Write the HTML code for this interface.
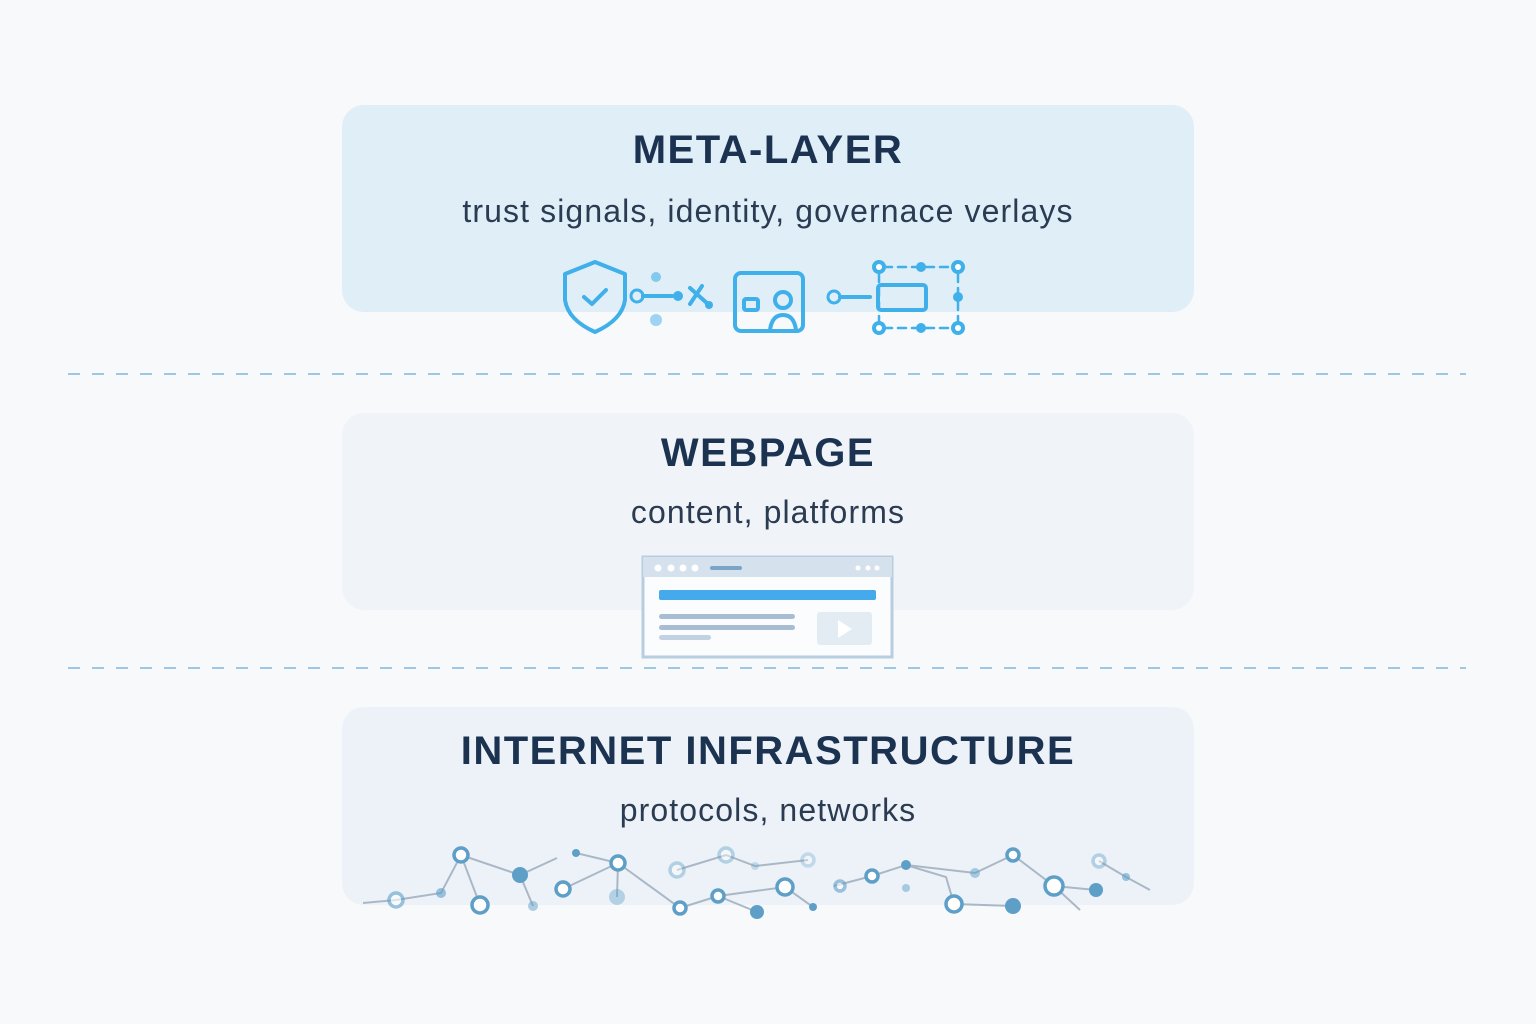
<!DOCTYPE html>
<html><head><meta charset="utf-8"><style>
body{margin:0;width:1536px;height:1024px;background:#f8f9fb;position:relative;overflow:hidden;font-family:"Liberation Sans",sans-serif}
.box{position:absolute;left:342px;width:852px;border-radius:22px}
.t{position:absolute;left:0;width:1536px;text-align:center;color:#1b3350;font-weight:bold;font-size:40px;letter-spacing:1.5px}
.s{position:absolute;left:0;width:1536px;text-align:center;color:#2a3b52;font-size:32px;letter-spacing:1.1px}
.d{position:absolute;left:68px;width:1398px;height:2px;background:repeating-linear-gradient(90deg,#9cc8e4 0 12px,transparent 12px 24px)}
</style></head><body>
<div class="box" style="top:105px;height:207px;background:#e0eef8"></div>
<div class="box" style="top:413px;height:197px;background:#f0f4f8"></div>
<div class="box" style="top:707px;height:198px;background:#ecf2f8"></div>
<div class="d" style="top:373px"></div>
<div class="d" style="top:667px"></div>
<div class="t" style="top:128px">META-LAYER</div>
<div class="s" style="top:193px">trust signals, identity, governace verlays</div>
<div class="t" style="top:431px">WEBPAGE</div>
<div class="s" style="top:494px">content, platforms</div>
<div class="t" style="top:729px">INTERNET INFRASTRUCTURE</div>
<div class="s" style="top:792px">protocols, networks</div>
<svg width="1536" height="1024" style="position:absolute;left:0;top:0">
<g fill="none" stroke="#3fb0ea" stroke-width="4" stroke-linecap="round" stroke-linejoin="round">
<path d="M595 262 L625 274 L625 300 Q622 320 595 332 Q568 320 565 300 L565 274 Z"/>
<path d="M584 297 L592 304 L606 290"/>
<circle cx="637" cy="296" r="6" stroke-width="3"/><path d="M643 296 H672"/><path d="M690 288 L708 304 M690 304 L702 286"/>
<rect x="735" y="273" width="68" height="58" rx="6"/>
<rect x="744" y="299" width="14" height="11" rx="2"/>
<circle cx="783" cy="300" r="8"/><path d="M770 330 Q772 315 783 315 Q794 315 796 330"/>
<circle cx="834" cy="297" r="6" stroke-width="3"/><path d="M840 297 H870"/>
<rect x="878" y="285" width="48" height="25" rx="3"/>
<path d="M884 267 H952 M884 328 H952 M958 274 V321 M879 274 V321" stroke-width="2.5" stroke-dasharray="8 6"/>
</g>
<g fill="#3fb0ea"><circle cx="879" cy="267" r="7"/><circle cx="921" cy="267" r="5"/><circle cx="958" cy="267" r="7"/><circle cx="879" cy="328" r="7"/><circle cx="921" cy="328" r="5"/><circle cx="958" cy="328" r="7"/><circle cx="958" cy="297" r="5"/><circle cx="656" cy="277" r="5" opacity=".6"/><circle cx="656" cy="320" r="6" opacity=".5"/><circle cx="678" cy="296" r="5"/><circle cx="709" cy="305" r="4"/></g>
<g fill="#fff"><circle cx="879" cy="267" r="3"/><circle cx="958" cy="267" r="3"/><circle cx="879" cy="328" r="3"/><circle cx="958" cy="328" r="3"/></g>
<rect x="643" y="557" width="249" height="100" fill="#fbfcfe" stroke="#b7cde0" stroke-width="3"/>
<rect x="643" y="557" width="249" height="20" fill="#d5e1ec"/>
<g fill="#fff"><circle cx="658" cy="568" r="3.5"/><circle cx="671" cy="568" r="3.5"/><circle cx="683" cy="568" r="3.5"/><circle cx="695" cy="568" r="3.5"/><circle cx="858" cy="568" r="2.5"/><circle cx="868" cy="568" r="2.5"/><circle cx="877" cy="568" r="2.5"/></g>
<rect x="710" y="566" width="32" height="4" rx="2" fill="#7aa5c7"/>
<rect x="659" y="590" width="217" height="10" rx="2" fill="#45aaec"/>
<rect x="659" y="614" width="136" height="5" rx="2.5" fill="#a8bdd2"/><rect x="659" y="625" width="136" height="5" rx="2.5" fill="#a8bdd2"/><rect x="659" y="635" width="52" height="5" rx="2.5" fill="#c2d2e2"/>
<rect x="817" y="612" width="55" height="33" rx="3" fill="#e4ecf3"/><path d="M838 620 L852 629 L838 638Z" fill="#fff"/>
<g stroke="#aab8c6" stroke-width="2" fill="none">
<path d="M363 903 L396 900 L441 893 L461 855 L480 905 M461 855 L520 875 L557 858 M520 875 L533 906 M576 853 L618 863 L680 908 L718 896 L785 887 L813 907 M618 863 L563 889 M618 863 L617 897 M677 870 L726 855 L755 866 L808 860 M718 896 L757 912 M834 886 L872 876 L906 865 L946 877 L954 904 L1013 906 M906 865 L975 873 L1013 855 L1054 886 L1080 910 M1054 886 L1096 890 M1099 861 L1126 877 L1150 890"/>
</g>
<g fill="#fff" stroke="#5e9fc8" stroke-width="3.5">
<circle cx="396" cy="900" r="7" opacity=".6"/><circle cx="461" cy="855" r="7"/><circle cx="480" cy="905" r="8"/><circle cx="563" cy="889" r="7"/><circle cx="618" cy="863" r="7"/><circle cx="680" cy="908" r="6"/><circle cx="718" cy="896" r="6"/><circle cx="785" cy="887" r="8"/><circle cx="677" cy="870" r="7" opacity=".4"/><circle cx="726" cy="855" r="7" opacity=".4"/><circle cx="808" cy="860" r="6" opacity=".3"/><circle cx="840" cy="886" r="5" opacity=".6"/><circle cx="872" cy="876" r="6"/><circle cx="954" cy="904" r="8"/><circle cx="1013" cy="855" r="6"/><circle cx="1054" cy="886" r="9"/><circle cx="1099" cy="861" r="6" opacity=".4"/>
</g>
<g fill="#5e9fc8"><circle cx="441" cy="893" r="5" opacity=".6"/><circle cx="520" cy="875" r="8"/><circle cx="533" cy="906" r="5" opacity=".5"/><circle cx="576" cy="853" r="4"/><circle cx="617" cy="897" r="8" opacity=".4"/><circle cx="757" cy="912" r="7"/><circle cx="813" cy="907" r="4"/><circle cx="755" cy="866" r="4" opacity=".3"/><circle cx="906" cy="865" r="5"/><circle cx="906" cy="888" r="4" opacity=".5"/><circle cx="975" cy="873" r="5" opacity=".5"/><circle cx="1013" cy="906" r="8"/><circle cx="1096" cy="890" r="7"/><circle cx="1126" cy="877" r="4" opacity=".6"/></g>
</svg>
</body></html>
